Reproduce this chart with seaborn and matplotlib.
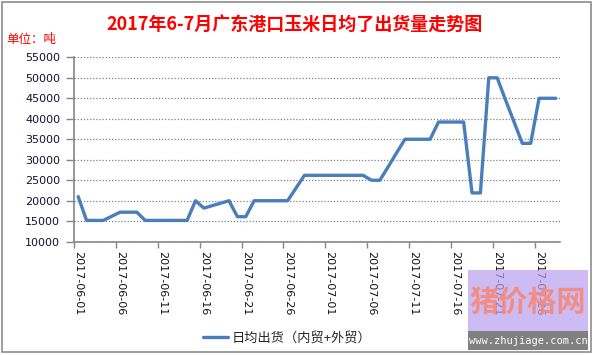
import pandas as pd
import numpy as np
import seaborn as sns
import matplotlib.pyplot as plt
from matplotlib.patches import Rectangle

sns.set_style("white")
plt.rcParams['font.family'] = ['Noto Sans CJK SC', 'DejaVu Sans']

# ---- data ----
dates = pd.date_range('2017-06-01', '2017-07-28', freq='D')
values = [21000, 15200, 15200, 15200, 16200, 17200, 17200, 17200, 15200, 15200,
          15200, 15200, 15200, 15200, 20000, 18200, 18800, 19400, 20000, 16100,
          16100, 20000, 20000, 20000, 20000, 20000, 23100, 26200, 26200, 26200,
          26200, 26200, 26200, 26200, 26200, 25000, 25000, 28300, 31700, 35000,
          35000, 35000, 35000, 39200, 39200, 39200, 39200, 21900, 21900, 50000,
          50000, 44600, 39300, 34000, 34000, 45000, 45000, 45000]
series_name = '日均出货（内贸+外贸）'
title = '2017年6-7月广东港口玉米日均了出货量走势图'
unit_label = '单位：吨'

df = pd.DataFrame({'pos': np.arange(len(dates)),
                   'date': dates.strftime('%Y-%m-%d'),
                   'value': values})

fig = plt.figure(figsize=(5.93, 3.55), dpi=100)
ax = fig.add_axes([74 / 593, 1 - 241.7 / 355, (560 - 74) / 593, (241.7 - 57.3) / 355])

sns.lineplot(data=df, x='pos', y='value', ax=ax, color='#4a7ebb',
             linewidth=2.4, label=series_name, legend=False)

# y axis
ax.set_ylim(10000, 55000)
ax.set_yticks(np.arange(10000, 55001, 5000))
ax.yaxis.grid(True, linestyle=(0, (1, 1.5)), color='#808080', linewidth=0.9)
ax.xaxis.grid(False)

# x axis: category axis, labels every 5 days, tick marks between categories
ax.set_xlim(-0.5, len(dates) - 0.5)
label_pos = df['pos'][::5]
ax.set_xticks(label_pos)
ax.set_xticklabels(df['date'][::5], rotation=-90, family='DejaVu Sans',
                   fontsize=8, color='#111111')
ax.set_xticks(np.arange(-0.5, len(dates) - 1, 5), minor=True)
ax.tick_params(axis='x', which='major', length=0, pad=7)
ax.tick_params(axis='x', which='minor', length=4, width=1, color='#868686',
               direction='out', bottom=True)
ax.tick_params(axis='y', length=6, width=1, color='#868686', direction='out',
               left=True, pad=4)
for lab in ax.get_yticklabels():
    lab.set_family('DejaVu Sans')
    lab.set_fontsize(8)
    lab.set_color('#111133')

ax.set_xlabel('')
ax.set_ylabel('')
for side in ['top', 'right']:
    ax.spines[side].set_visible(False)
for side in ['left', 'bottom']:
    ax.spines[side].set_color('#868686')
    ax.spines[side].set_linewidth(1.2)

# titles
fig.text(0.497, 0.932, title, ha='center', va='center', color='#ff0000',
         fontsize=13, fontweight='bold')
fig.text(6 / 593, 1 - 40 / 355, unit_label, ha='left', va='center',
         color='#ff0000', fontsize=9)

# legend
handles, labels = ax.get_legend_handles_labels()
fig.legend(handles, labels, loc='center', bbox_to_anchor=(0.484, 0.048),
           frameon=False, fontsize=9.5, handlelength=1.9, handletextpad=0.3)

# outer frame
fig.patches.append(Rectangle((2 / 593, 3 / 355), 589 / 593, 350 / 355,
                             transform=fig.transFigure, fill=False,
                             edgecolor='#8c8c8c', linewidth=1.2))

# site watermark box, bottom right (semi-transparent, tick labels show through)
fig.patches.append(Rectangle((468 / 593, 1 - 331 / 355), 120 / 593, 61 / 355,
                             transform=fig.transFigure, facecolor='#b89ef0',
                             edgecolor='none', alpha=0.7, zorder=5))
fig.patches.append(Rectangle((468 / 593, 1 - 350 / 355), 120 / 593, 19 / 355,
                             transform=fig.transFigure, facecolor='#808080',
                             edgecolor='none', zorder=5))
fig.text(528 / 593, 1 - 302 / 355, '猪价格网', ha='center', va='center',
         color='#f58a7a', fontsize=21, fontweight='bold', alpha=0.9, zorder=6)
fig.text(528 / 593, 1 - 340.5 / 355, 'www.zhujiage.com.cn', ha='center',
         va='center', color='white', fontsize=7.5, family='DejaVu Sans Mono',
         zorder=6)

plt.savefig('out.png', dpi=100)
plt.close()
